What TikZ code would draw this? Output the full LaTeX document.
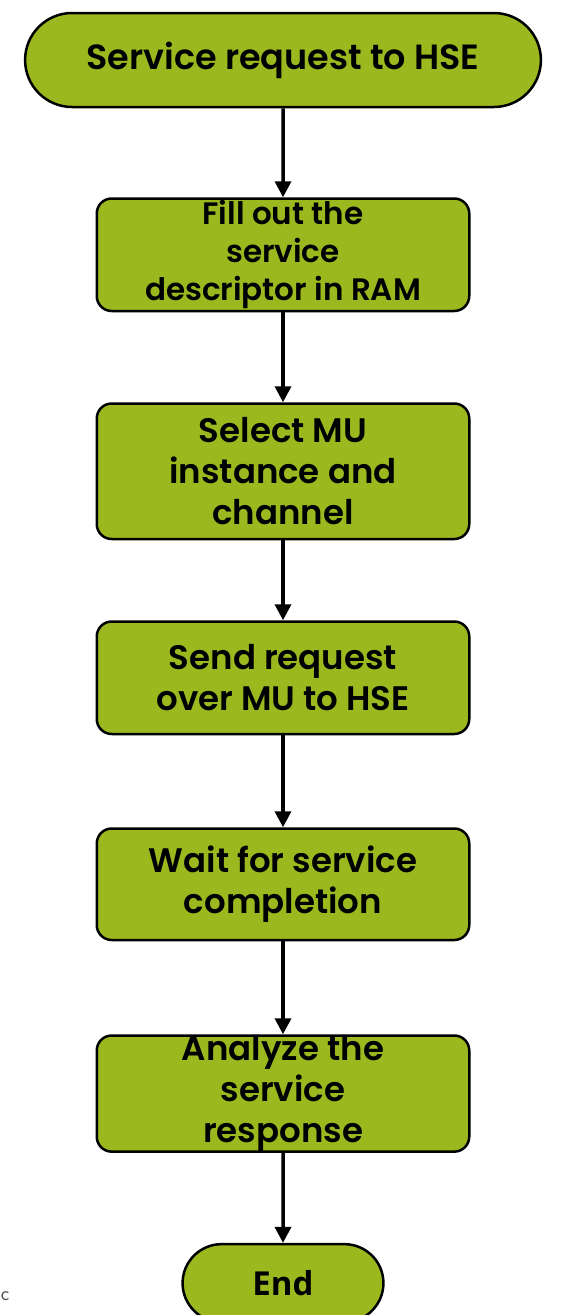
\documentclass[tikz,border=0pt]{standalone}
\usepackage{fontspec}
\setmainfont{Poppins}[BoldFont={Poppins SemiBold}]
\newfontfamily\endfont{Open Sans}
\usetikzlibrary{arrows.meta, positioning, shapes.misc}

\definecolor{flowgreen}{RGB}{155,185,30}

\begin{document}
\begin{tikzpicture}[
  x=1pt, y=1pt,
  terminal/.style={rounded rectangle, draw=black, line width=2.5pt, fill=flowgreen,
                   align=center, font=\bfseries},
  stepbox/.style={rectangle, rounded corners=15pt, draw=black, line width=2.5pt,
                  fill=flowgreen, align=center, minimum width=372.5pt,
                  font=\fontsize{34}{41}\selectfont\bfseries, inner sep=0pt},
  arrow/.style={-{Triangle[length=16pt, width=16pt]}, line width=3.5pt}
]

\useasboundingbox (0,0) rectangle (586,-1315);

\node[terminal, minimum width=522.5pt, minimum height=94pt,
      font=\fontsize{35}{42}\selectfont\bfseries] (request) at (283,-60) {Service request to HSE};

\node[stepbox, minimum height=112.5pt, font=\fontsize{31}{38}\selectfont\bfseries,
      below=89pt of request] (fill) {Fill out the\\service\\descriptor in RAM};
\node[stepbox, minimum height=135.5pt, below=90pt of fill] (select) {Select MU\\instance and\\channel};
\node[stepbox, minimum height=112.5pt, below=80pt of select] (send) {Send request\\over MU to HSE};
\node[stepbox, minimum height=111.5pt, below=92pt of send] (wait) {Wait for service\\completion};
\node[stepbox, minimum height=111.5pt, below=93pt of wait] (analyze) {Analyze the\\service\\response};
\node[terminal, minimum width=207.5pt, minimum height=78pt,
      font=\endfont\fontsize{33}{40}\selectfont\bfseries, below=90pt of analyze] (finish) {End};

\node[font=\sffamily\fontsize{20}{22}\selectfont, text=black!70, inner sep=0pt] (mark) at (5,-1296) {c};

\draw[arrow] (request) -- (fill);
\draw[arrow] (fill) -- (select);
\draw[arrow] (select) -- (send);
\draw[arrow] (send) -- (wait);
\draw[arrow] (wait) -- (analyze);
\draw[arrow] (analyze) -- (finish);

\end{tikzpicture}
\end{document}
